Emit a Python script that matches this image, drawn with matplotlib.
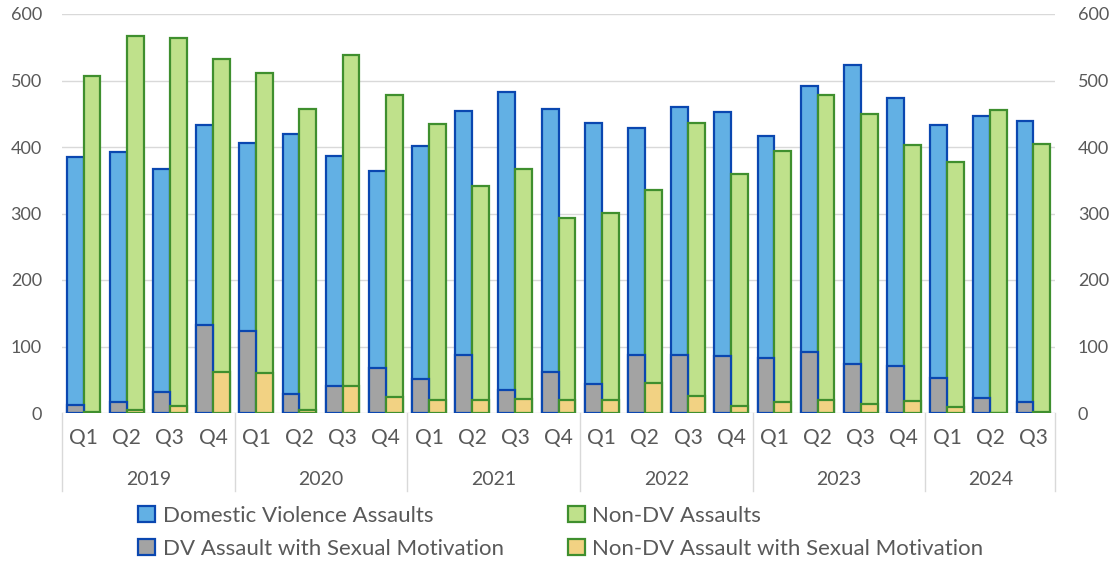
import matplotlib
matplotlib.use("Agg")
import matplotlib.pyplot as plt
from matplotlib.patches import Patch
from matplotlib.lines import Line2D
import numpy as np

plt.rcParams['font.family'] = ['Lato', 'DejaVu Sans']

years = ['2019', '2020', '2021', '2022', '2023', '2024']
quarters_per_year = [4, 4, 4, 4, 4, 3]
quarters = ['Q1', 'Q2', 'Q3', 'Q4'] * 5 + ['Q1', 'Q2', 'Q3']

dv_assaults = [385, 392, 367, 433, 406, 420, 386, 364, 401, 454, 482, 457,
               436, 428, 460, 453, 416, 491, 524, 474, 433, 447, 439]
non_dv_assaults = [507, 567, 564, 532, 511, 457, 538, 478, 435, 341, 367, 293,
                   301, 336, 436, 360, 394, 478, 449, 403, 377, 455, 405]
dv_sexual = [12, 16, 32, 133, 124, 29, 40, 68, 51, 87, 35, 61,
             44, 87, 87, 86, 82, 91, 73, 71, 53, 23, 17]
non_dv_sexual = [1, 4, 11, 62, 60, 4, 40, 24, 19, 20, 21, 19,
                 19, 45, 25, 10, 17, 19, 13, 18, 9, 0, 2]

blue_fill, blue_edge = '#62B0E4', '#0A47B0'
green_fill, green_edge = '#BFE18B', '#3F8F2E'
gray_fill = '#A3A3A3'
yellow_fill = '#F2D283'
text_col = '#595959'
grid_col = '#D9D9D9'

fig = plt.figure(figsize=(11.15, 5.65), dpi=100)
ax = fig.add_axes([62 / 1115, 152 / 565, 993 / 1115, 399 / 565])

x = np.arange(len(quarters))
w = 0.39
lw = 1.6
ax.bar(x - w / 2, dv_assaults, w, color=blue_fill, edgecolor=blue_edge, linewidth=lw, zorder=2)
ax.bar(x + w / 2, non_dv_assaults, w, color=green_fill, edgecolor=green_edge, linewidth=lw, zorder=2)
ax.bar(x - w / 2, dv_sexual, w, color=gray_fill, edgecolor=blue_edge, linewidth=lw, zorder=3)
ax.bar(x + w / 2, non_dv_sexual, w, color=yellow_fill, edgecolor=green_edge, linewidth=lw, zorder=3)

ax.set_xlim(-0.5, len(quarters) - 0.5)
ax.set_ylim(0, 600)
ax.set_yticks(range(0, 601, 100))
ax.grid(axis='y', color=grid_col, linewidth=1, zorder=0)
for s in ax.spines.values():
    s.set_visible(False)
ax.tick_params(axis='y', length=0, labelsize=13, labelcolor=text_col, pad=14.5)
ax.set_xticks(x)
ax.set_xticklabels(quarters)
ax.tick_params(axis='x', length=0, labelsize=15, labelcolor=text_col, pad=11)

ax2 = ax.twinx()
ax2.set_ylim(0, 600)
ax2.set_yticks(range(0, 601, 100))
for s in ax2.spines.values():
    s.set_visible(False)
ax2.tick_params(axis='y', length=0, labelsize=13, labelcolor=text_col, pad=16.5)

# year separators and labels
trans = ax.get_xaxis_transform()
bounds = np.concatenate([[0], np.cumsum(quarters_per_year)]) - 0.5
for b in bounds:
    ax.add_line(Line2D([b, b], [0, -0.195], transform=trans, color=grid_col,
                       linewidth=1, clip_on=False))
for i, yr in enumerate(years):
    c = (bounds[i] + bounds[i + 1]) / 2
    ax.text(c, -0.167, yr, transform=trans, ha='center', va='center',
            fontsize=14, color=text_col)

handles = [
    Patch(facecolor=blue_fill, edgecolor=blue_edge, linewidth=lw, label='Domestic Violence Assaults'),
    Patch(facecolor=gray_fill, edgecolor=blue_edge, linewidth=lw, label='DV Assault with Sexual Motivation'),
    Patch(facecolor=green_fill, edgecolor=green_edge, linewidth=lw, label='Non-DV Assaults'),
    Patch(facecolor=yellow_fill, edgecolor=green_edge, linewidth=lw, label='Non-DV Assault with Sexual Motivation'),
]
leg = fig.legend(handles=handles, ncol=2, loc='center', bbox_to_anchor=(0.503, 0.058),
                 frameon=False, fontsize=16, handlelength=0.75, handleheight=0.75,
                 handletextpad=0.35, columnspacing=2.9, labelspacing=0.6)
for t in leg.get_texts():
    t.set_color(text_col)

fig.savefig('out.png', dpi=100)
